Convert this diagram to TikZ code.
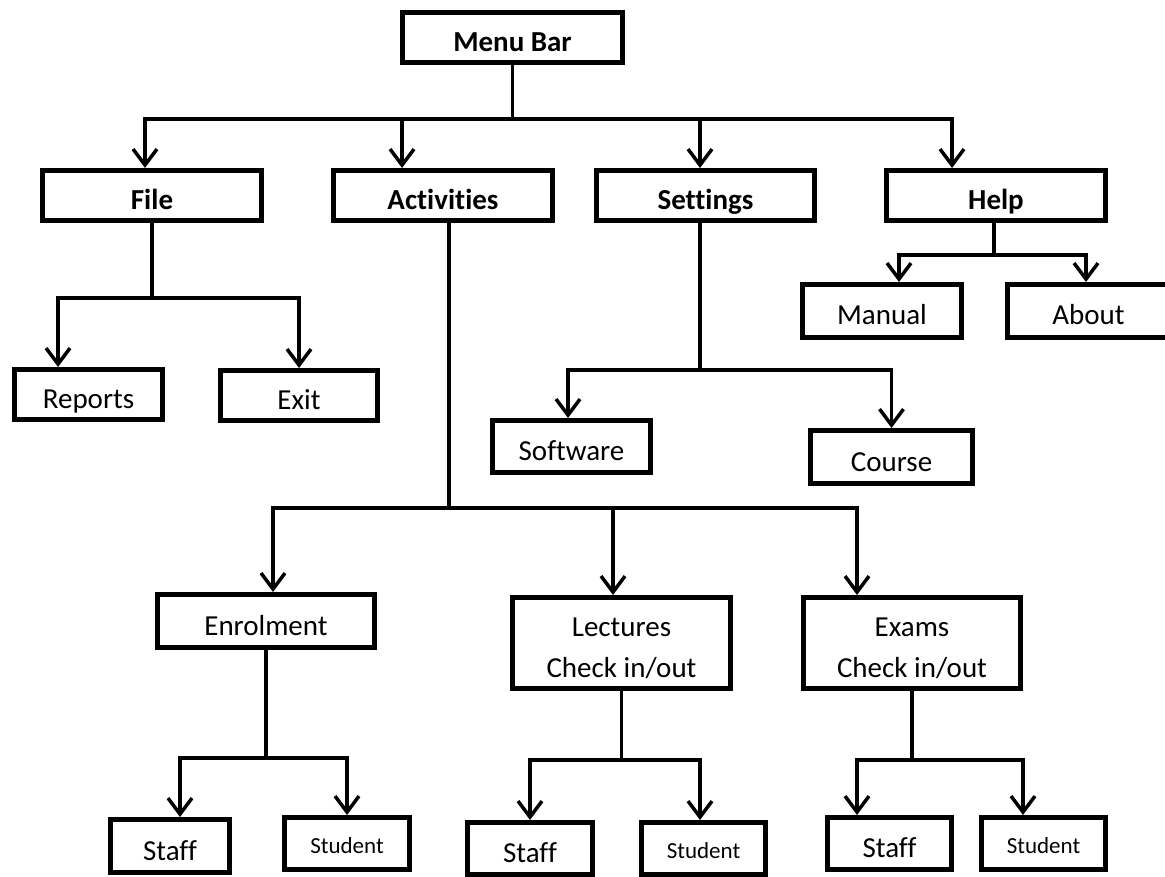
\documentclass[tikz,border=0pt]{standalone}
\usepackage{fontspec}
\setmainfont[Ligatures={NoCommon,NoRare}]{Carlito}
\usetikzlibrary{arrows.meta}
\tikzset{
  box/.style={draw, line width=5pt, inner sep=0pt, font=\fontsize{29}{41}\selectfont, text height=28pt, text depth=0pt},
  topbox/.style={box, font=\bfseries\fontsize{29}{41}\selectfont},
  smallbox/.style={box, font=\fontsize{23}{28}\selectfont, text height=19pt},
  twobox/.style={box, text height=68pt},
  conn/.style={line width=3.5pt},
  arr/.style={conn, -{Straight Barb[length=16pt,width=24pt]}}
}
\begin{document}
\begin{tikzpicture}[x=1pt,y=-1pt]
\useasboundingbox (0,0) rectangle (1165,877);
% top level
\node[topbox, minimum width=220pt, minimum height=50pt] (menu) at (512.5,37.5) {Menu Bar};
\node[topbox, minimum width=219pt, minimum height=50pt] (file) at (152,195.5) {File};
\node[topbox, minimum width=219pt, minimum height=50pt] (act) at (443,195.5) {Activities};
\node[topbox, minimum width=218pt, minimum height=50pt] (set) at (705.5,195.5) {Settings};
\node[topbox, minimum width=219pt, minimum height=50pt] (help) at (996,195.5) {Help};
% second level
\node[box, minimum width=148pt, minimum height=50pt] (reports) at (88.5,394.5) {Reports};
\node[box, minimum width=157pt, minimum height=50pt] (exit) at (299,395.5) {Exit};
\node[box, minimum width=158pt, minimum height=52pt] (soft) at (571.5,446.5) {Software};
\node[box, minimum width=162pt, minimum height=53pt] (course) at (891.5,457) {Course};
\node[box, minimum width=159pt, minimum height=53pt] (manual) at (882,311) {Manual};
\node[box, minimum width=162pt, minimum height=53pt] (about) at (1088.5,311) {About};
\node[box, minimum width=217pt, minimum height=53pt] (enrol) at (266,621) {Enrolment};
\node[twobox, minimum width=218pt, minimum height=91pt] (lect) at (621.5,643) {\begin{tabular}[b]{@{}c@{}}Lectures\\Check in/out\end{tabular}};
\node[twobox, minimum width=217pt, minimum height=91pt] (exam) at (912,643) {\begin{tabular}[b]{@{}c@{}}Exams\\Check in/out\end{tabular}};
% third level
\node[box, minimum width=119pt, minimum height=53pt] (staffA) at (170,846) {Staff};
\node[smallbox, minimum width=125pt, minimum height=52pt] (studA) at (347,843.5) {Student};
\node[box, minimum width=125pt, minimum height=52pt] (staffB) at (530,848.5) {Staff};
\node[smallbox, minimum width=124pt, minimum height=52pt] (studB) at (703.5,848.5) {Student};
\node[box, minimum width=124pt, minimum height=52pt] (staffC) at (889.5,843.5) {Staff};
\node[smallbox, minimum width=124pt, minimum height=52pt] (studC) at (1043.5,843.5) {Student};
% junctions
\coordinate (jm) at (512.5,119);
\coordinate (jf) at (152,298);
\coordinate (ja) at (449,508);
\coordinate (js) at (700,370);
\coordinate (jh) at (994,255);
\coordinate (je) at (266,758);
\coordinate (jl) at (621.5,760);
\coordinate (jx) at (912,760);
% menu bar
\draw[conn] (menu) -- (jm);
\draw[arr] (jm) -| ([xshift=-7pt]file.north);
\draw[arr] (jm) -| ([xshift=-41pt]act.north);
\draw[arr] (jm) -| ([xshift=-5.5pt]set.north);
\draw[arr] (jm) -| ([xshift=-44pt]help.north);
% file
\draw[conn] (file) -- (jf);
\draw[arr] (jf) -| ([xshift=-30.5pt]reports.north);
\draw[arr] (jf) -| (exit.north);
% activities
\draw[conn] ([xshift=6pt]act.south) -- (ja);
\draw[arr] (ja) -| ([xshift=7pt]enrol.north);
\draw[arr] (ja) -| ([xshift=-8.5pt]lect.north);
\draw[arr] (ja) -| ([xshift=-55pt]exam.north);
% settings
\draw[conn] ([xshift=-5.5pt]set.south) -- (js);
\draw[arr] (js) -| ([xshift=-3.5pt]soft.north);
\draw[arr] (js) -| (course.north);
% help
\draw[conn] ([xshift=-2pt]help.south) -- (jh);
\draw[arr] (jh) -| ([xshift=17pt]manual.north);
\draw[arr] (jh) -| ([xshift=-2.5pt]about.north);
% enrolment
\draw[conn] (enrol) -- (je);
\draw[arr] (je) -| ([xshift=10pt]staffA.north);
\draw[arr] (je) -| (studA.north);
% lectures
\draw[conn] (lect) -- (jl);
\draw[arr] (jl) -| (staffB.north);
\draw[arr] (jl) -| ([xshift=-3.5pt]studB.north);
% exams
\draw[conn] (exam) -- (jx);
\draw[arr] (jx) -| ([xshift=-32.5pt]staffC.north);
\draw[arr] (jx) -| ([xshift=-20.5pt]studC.north);
\end{tikzpicture}
\end{document}
